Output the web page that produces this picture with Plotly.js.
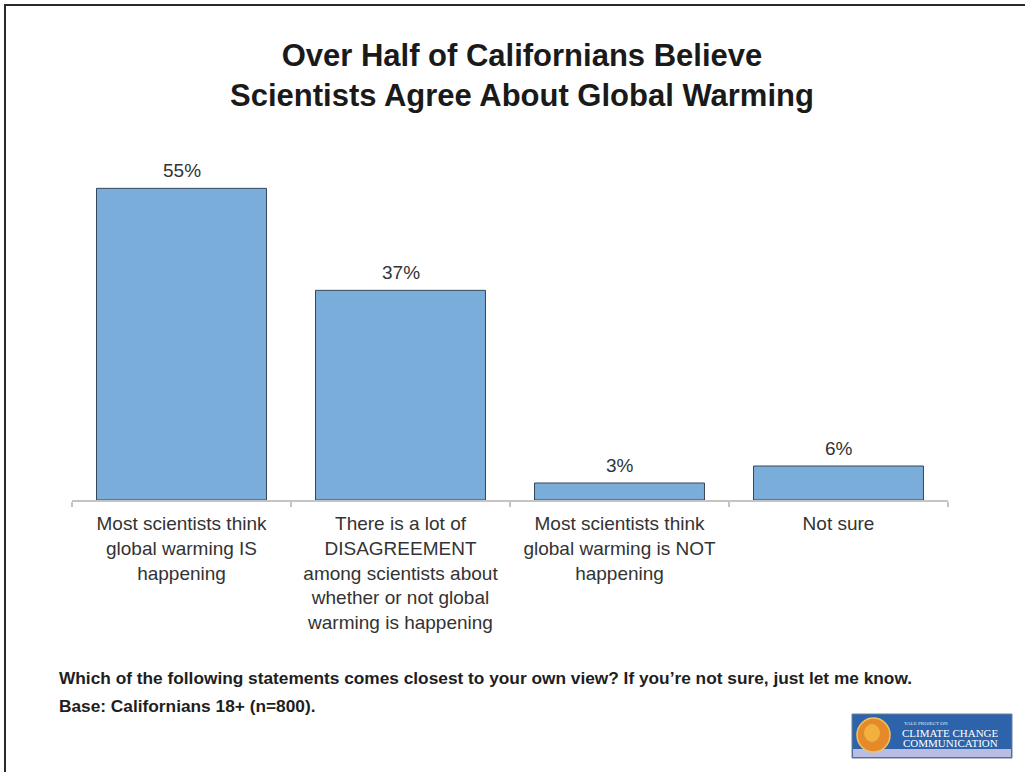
<!DOCTYPE html>
<html>
<head>
<meta charset="utf-8">
<script src="https://cdn.plot.ly/plotly-3.0.1.min.js"></script>
<style>
html,body{margin:0;padding:0;background:#fff;overflow:hidden;}
#chart{width:1025px;height:772px;position:absolute;left:0;top:0;}
#frame{position:absolute;left:4px;top:4px;width:1100px;height:900px;border-left:2px solid #2a2a2a;border-top:2px solid #2a2a2a;pointer-events:none;}
</style>
</head>
<body>
<div id="chart"></div>
<div id="frame"></div>
<script>
// ---- data ----
const categories = [
  "Most scientists think<br>global warming IS<br>happening",
  "There is a lot of<br>DISAGREEMENT<br>among scientists about<br>whether or not global<br>warming is happening",
  "Most scientists think<br>global warming is NOT<br>happening",
  "Not sure"
];
const percents = [55, 37, 3, 6];
const valueLabels = ["55%", "37%", "3%", "6%"];
const titleText = "Over Half of Californians Believe<br>Scientists Agree About Global Warming";
const questionText = "Which of the following statements comes closest to your own view? If you\u2019re not sure, just let me know.";
const baseText = "Base: Californians 18+ (n=800).";

// ---- layout geometry ----
const W = 1025, H = 772;
const M = {l: 72, r: 77, t: 160, b: 272};
const PW = W - M.l - M.r, PH = H - M.t - M.b;
const px = x => (x - M.l) / PW;
const py = y => (H - M.b - y) / PH;
const FONT = '"Liberation Sans", Arial, Helvetica, sans-serif';

const trace = {
  type: 'bar',
  x: categories,
  y: percents,
  marker: {color: 'rgb(122,173,218)', line: {color: '#34465a', width: 1}},
  hoverinfo: 'none'
};

const annotations = percents.map((v, i) => ({
  x: categories[i], y: v, xref: 'x', yref: 'y',
  text: valueLabels[i], showarrow: false,
  yanchor: 'bottom', yshift: 5,
  font: {family: FONT, size: 19, color: '#333'}
}));

// title as annotation for precise placement
annotations.push({
  xref: 'paper', yref: 'paper', x: px(522), y: py(75),
  xanchor: 'center', yanchor: 'middle', showarrow: false,
  text: '<b>' + titleText + '</b>',
  font: {family: FONT, size: 31, color: '#1a1a1a'}
});

annotations.push({
  xref: 'paper', yref: 'paper', x: px(57), y: py(678),
  xanchor: 'left', yanchor: 'middle', showarrow: false,
  text: '<b>' + questionText + '</b>',
  font: {family: FONT, size: 17.3, color: '#1e1e1e'}
});
annotations.push({
  xref: 'paper', yref: 'paper', x: px(57), y: py(706),
  xanchor: 'left', yanchor: 'middle', showarrow: false,
  text: '<b>' + baseText + '</b>',
  font: {family: FONT, size: 17.3, color: '#1e1e1e'}
});
// logo text
annotations.push({
  xref: 'paper', yref: 'paper', x: px(926), y: py(723),
  xanchor: 'center', yanchor: 'middle', showarrow: false,
  text: 'YALE PROJECT ON',
  font: {family: '"Liberation Serif", serif', size: 5, color: '#e8eefa'}
});
annotations.push({
  xref: 'paper', yref: 'paper', x: px(950), y: py(733),
  xanchor: 'center', yanchor: 'middle', showarrow: false,
  text: 'CLIMATE CHANGE',
  font: {family: '"Liberation Serif", serif', size: 11, color: '#ffffff'}
});
annotations.push({
  xref: 'paper', yref: 'paper', x: px(950), y: py(743),
  xanchor: 'center', yanchor: 'middle', showarrow: false,
  text: 'COMMUNICATION',
  font: {family: '"Liberation Serif", serif', size: 11, color: '#ffffff'}
});

const shapes = [
  {type: 'rect', xref: 'paper', yref: 'paper', x0: px(852), x1: px(1012), y0: py(714), y1: py(758),
   fillcolor: '#2c63aa', line: {color: '#6c7f9a', width: 1}},
  {type: 'rect', xref: 'paper', yref: 'paper', x0: px(853), x1: px(1011), y0: py(749), y1: py(757),
   fillcolor: '#b9bde4', line: {width: 0}},
  {type: 'circle', xref: 'paper', yref: 'paper', x0: px(857), x1: px(890), y0: py(718), y1: py(752),
   fillcolor: '#e58a2a', line: {color: '#f3c060', width: 1.5}},
  {type: 'circle', xref: 'paper', yref: 'paper', x0: px(864), x1: px(880), y0: py(724), y1: py(742),
   fillcolor: '#f2b13f', line: {width: 0}}
];

const layout = {
  width: W, height: H,
  margin: M,
  paper_bgcolor: '#ffffff', plot_bgcolor: '#ffffff',
  showlegend: false,
  bargap: 0.224,
  xaxis: {
    type: 'category',
    showline: true, linecolor: '#c4c4c4', linewidth: 1.5,
    ticks: 'outside', tickson: 'boundaries', ticklen: 5, tickcolor: '#c4c4c4', tickwidth: 1.5,
    ticklabelstandoff: 6,
    tickfont: {family: FONT, size: 19, color: '#333'},
    showgrid: false, zeroline: false, fixedrange: true
  },
  yaxis: {
    range: [0, 60], visible: false, showgrid: false, zeroline: false, fixedrange: true
  },
  annotations: annotations,
  shapes: shapes
};

Plotly.newPlot('chart', [trace], layout, {displayModeBar: false, staticPlot: true});
</script>
</body>
</html>
